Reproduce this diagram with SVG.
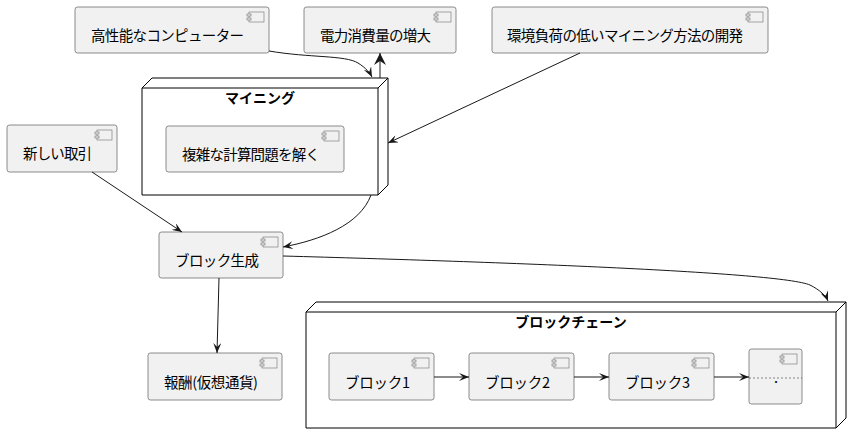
<svg xmlns="http://www.w3.org/2000/svg" width="862" height="444" viewBox="0 0 862 444">
<style>
.comp{fill:#F1F1F1;stroke:#6f6f6f;stroke-width:0.8;}
.icon{fill:#F1F1F1;stroke:#6f6f6f;stroke-width:0.6;}
.node{fill:#FFFFFF;stroke:#000000;stroke-width:1;}
.t{font-family:"Noto Sans CJK JP","Noto Sans",sans-serif;font-size:14.5px;fill:#000000;}
.title{font-family:"Noto Sans CJK JP","Noto Sans",sans-serif;font-size:14px;font-weight:bold;fill:#000000;text-anchor:middle;}
.edge{fill:none;stroke:#181818;stroke-width:1;}
</style>
<defs>
<marker id="ah" markerUnits="userSpaceOnUse" markerWidth="10" markerHeight="8" refX="10" refY="4" orient="auto" viewBox="0 0 10 8">
<path d="M0,0 L10,4 L0,8 L4,4 Z" fill="#181818"/>
</marker>
<marker id="ahb" markerUnits="userSpaceOnUse" markerWidth="13" markerHeight="12" refX="12" refY="6" orient="auto" viewBox="0 0 13 12">
<path d="M0,0 L12,6 L0,12 L4,6 Z" fill="#181818"/>
</marker>
<g id="cicon">
<rect class="icon" x="-20" y="5" width="15" height="10"/>
<rect class="icon" x="-22" y="7" width="4" height="2"/>
<rect class="icon" x="-22" y="11" width="4" height="2"/>
</g>
</defs>

<g id="node-mining">
<path class="node" d="M142,88 L152,78 L388,78 L388,185 L378,195 L142,195 Z"/>
<path class="node" d="M378,88 L388,78 M378,88 L378,195 M142,88 L378,88" fill="none"/>
<text class="title" x="260" y="103">マイニング</text>
</g>
<g id="node-blockchain">
<path class="node" d="M306,312 L316,302 L846,302 L846,418 L836,428 L306,428 Z"/>
<path class="node" d="M836,312 L846,302 M836,312 L836,428 M306,312 L836,312" fill="none"/>
<text class="title" x="571" y="327">ブロックチェーン</text>
</g>

<g id="c-highperf">
<rect class="comp" x="75" y="7" width="194" height="46" rx="2.5"/>
<use href="#cicon" x="269" y="7"/>
<text class="t" x="91" y="41" textLength="153">高性能なコンピューター</text>
</g>
<g id="c-power">
<rect class="comp" x="304" y="7" width="152" height="46" rx="2.5"/>
<use href="#cicon" x="456" y="7"/>
<text class="t" x="320" y="41" textLength="111">電力消費量の増大</text>
</g>
<g id="c-eco">
<rect class="comp" x="492" y="7" width="276" height="46" rx="2.5"/>
<use href="#cicon" x="768" y="7"/>
<text class="t" x="507" y="41" textLength="236">環境負荷の低いマイニング方法の開発</text>
</g>
<g id="c-solve">
<rect class="comp" x="166" y="126" width="178" height="46" rx="2.5"/>
<use href="#cicon" x="344" y="126"/>
<text class="t" x="182" y="160" textLength="138">複雑な計算問題を解く</text>
</g>
<g id="c-tx">
<rect class="comp" x="7" y="125" width="110" height="47" rx="2.5"/>
<use href="#cicon" x="117" y="125"/>
<text class="t" x="23" y="159" textLength="69">新しい取引</text>
</g>
<g id="c-gen">
<rect class="comp" x="159" y="232" width="124" height="46" rx="2.5"/>
<use href="#cicon" x="283" y="232"/>
<text class="t" x="175" y="266" textLength="84">ブロック生成</text>
</g>
<g id="c-reward">
<rect class="comp" x="148" y="353" width="134" height="47" rx="2.5"/>
<use href="#cicon" x="282" y="353"/>
<text class="t" x="164" y="388" textLength="94">報酬(仮想通貨)</text>
</g>
<g id="c-b1">
<rect class="comp" x="329" y="353" width="105" height="47" rx="2.5"/>
<use href="#cicon" x="434" y="353"/>
<text class="t" x="345" y="388" textLength="65">ブロック1</text>
</g>
<g id="c-b2">
<rect class="comp" x="469" y="353" width="105" height="47" rx="2.5"/>
<use href="#cicon" x="574" y="353"/>
<text class="t" x="485" y="388" textLength="65">ブロック2</text>
</g>
<g id="c-b3">
<rect class="comp" x="609" y="353" width="105" height="47" rx="2.5"/>
<use href="#cicon" x="714" y="353"/>
<text class="t" x="625" y="388" textLength="65">ブロック3</text>
</g>
<g id="c-dots">
<rect class="comp" x="749" y="349" width="53" height="55" rx="2.5"/>
<use href="#cicon" x="802" y="349"/>
<line x1="749" y1="378" x2="802" y2="378" stroke="#181818" stroke-width="0.5" stroke-dasharray="2,2"/>
<text class="t" x="776" y="383" text-anchor="middle">.</text>
</g>

<g id="connectors">
<path class="edge" d="M269,51 C310,58 345,55 358,63 C366,68 370,73 372,77" marker-end="url(#ah)"/>
<path class="edge" d="M380,78 L380,53" stroke-width="2" marker-end="url(#ahb)"/>
<path class="edge" d="M580,53 L388,143" marker-end="url(#ah)"/>
<path class="edge" d="M371,195 C360,225 320,240 283,247" marker-end="url(#ah)"/>
<path class="edge" d="M92,172 L182,232" marker-end="url(#ah)"/>
<path class="edge" d="M219,278 L217,353" marker-end="url(#ah)"/>
<path class="edge" d="M283,256 C500,262 780,272 810,285 C820,290 826,296 828,301" marker-end="url(#ah)"/>
<path class="edge" d="M434,377 L469,377" marker-end="url(#ah)"/>
<path class="edge" d="M574,377 L609,377" marker-end="url(#ah)"/>
<path class="edge" d="M714,377 L749,377" marker-end="url(#ah)"/>
</g>
</svg>
